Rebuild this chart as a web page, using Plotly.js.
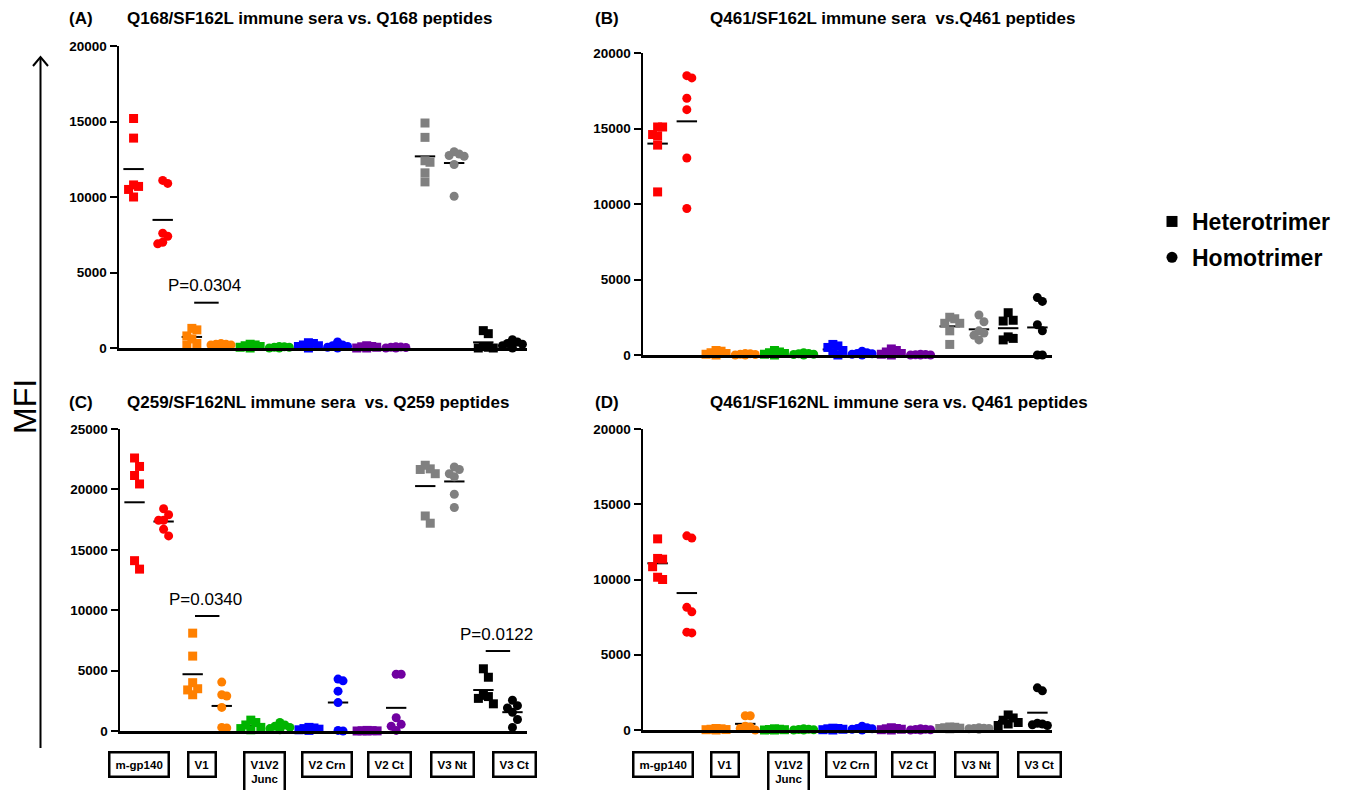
<!DOCTYPE html>
<html><head><meta charset="utf-8">
<script src="https://cdn.plot.ly/plotly-3.0.1.min.js"></script>
<style>html,body{margin:0;padding:0;background:#fff}#chart{width:1351px;height:790px}</style>
</head><body><div id="chart"></div>
<script>
const categories = ['m-gp140','V1','V1V2<br>Junc','V2 Crn','V2 Ct','V3 Nt','V3 Ct'];
const categoryColors = ['#ff0000','#ff8000','#00b400','#0000ff','#7000a0','#808080','#000000'];
const seriesNames = ['Heterotrimer','Homotrimer'];
const panelLetters = ['(A)','(B)','(C)','(D)'];
const panelTitles = [
  'Q168/SF162L immune sera vs. Q168 peptides',
  'Q461/SF162L immune sera  vs.Q461 peptides',
  'Q259/SF162NL immune sera  vs. Q259 peptides',
  'Q461/SF162NL immune sera vs. Q461 peptides'
];
const yMax = [20000, 20000, 25000, 20000];
const yTicks = [
  [0,5000,10000,15000,20000],
  [0,5000,10000,15000,20000],
  [0,5000,10000,15000,20000,25000],
  [0,5000,10000,15000,20000]
];

// values per category: m-gp140, V1, V1V2 Junc, V2 Crn, V2 Ct, V3 Nt, V3 Ct
const panelA_hetero = [
  [15200,13900,10800,10700,10500,10000],
  [1300,1200,800,600,300,200],
  [250,200,150,100,50,0],
  [350,300,200,150,100,0],
  [150,100,80,50,0,0],
  [14900,13950,12400,12300,11600,11000],
  [1150,950,100,50,0,0]
];
const panelA_homo = [
  [11100,10900,7600,7400,7000,6900],
  [300,250,250,200,200,150],
  [100,80,50,50,0,0],
  [400,200,150,100,50,0],
  [80,60,50,30,0,0],
  [13000,12850,12750,12700,12150,10050],
  [550,400,300,250,150,0]
];
const panelB_hetero = [
  [15100,15100,14600,14500,13900,10800],
  [300,250,150,100,50,0],
  [300,200,150,100,50,0],
  [700,600,500,300,100,0],
  [400,300,200,100,50,0],
  [2500,2400,2100,2100,1600,700],
  [2800,2300,2250,1200,1100,1000]
];
const panelB_homo = [
  [18500,18350,17000,16250,13050,9700],
  [100,80,50,30,0,0],
  [150,100,80,50,30,0],
  [250,150,100,80,50,0],
  [50,30,20,0,0,0],
  [2650,2200,1600,1450,1300,1000],
  [3800,3550,2000,1600,0,0]
];
const panelC_hetero = [
  [22600,21900,21150,20450,14100,13400],
  [8100,6200,4000,3500,3400,3000],
  [900,700,500,300,200,100],
  [300,250,200,150,100,50],
  [50,30,20,10,0,0],
  [22000,21700,21650,21300,17800,17200],
  [5150,4450,2950,2850,2700,2250]
];
const panelC_homo = [
  [18400,17900,17450,17450,16700,16150],
  [4050,3000,2900,1950,300,250],
  [700,500,400,300,200,100],
  [4300,4150,3300,2350,50,0],
  [4700,4700,1100,550,400,50],
  [21850,21650,21300,21050,19600,18500],
  [2550,2100,1900,1550,950,300]
];
const panelD_hetero = [
  [12700,11400,11350,10850,10150,10000],
  [100,80,50,30,20,0],
  [80,50,30,20,0,0],
  [120,100,80,50,20,0],
  [150,100,80,50,20,0],
  [200,180,150,120,100,80],
  [1000,800,650,500,400,300]
];
const panelD_homo = [
  [12900,12750,8150,7850,6500,6450],
  [950,950,250,200,100,0],
  [80,50,30,20,0,0],
  [250,150,100,80,50,0],
  [80,50,30,20,0,0],
  [150,120,100,100,80,50],
  [2800,2600,450,400,350,300]
];
const pLabels = ['P=0.0304','P=0.0340','P=0.0122'];
const pLevels = [3000, 9520, 6620];
const pPanels = [0, 2, 2];
const pCategories = [1, 1, 6];

const panelData = [
  [panelA_hetero, panelA_homo],
  [panelB_hetero, panelB_homo],
  [panelC_hetero, panelC_homo],
  [panelD_hetero, panelD_homo]
];

// layout geometry (pixels)
const W = 1351, H = 790;
const boxes = [
  {x0:119, x1:527, yb:348, yt:46},
  {x0:643, x1:1052, yb:355, yt:53},
  {x0:120, x1:527, yb:731, yt:429},
  {x0:643, x1:1052, yb:730, yt:429}
];
const FONT = 'Liberation Sans, Arial, Helvetica, sans-serif';

// beeswarm-style horizontal spreading of overlapping points
function swarmOffsets(vals, pxPerVal, pxPerX) {
  const stepPx = 5, minDy = 9, maxK = 4;
  const order = vals.map((v,i)=>i).sort((a,b)=>vals[b]-vals[a]);
  const placed = []; const off = vals.map(()=>0);
  const slot = k => (k===0 ? 0 : (k%2===1 ? (k+1)/2 : -k/2));
  order.forEach(i => {
    const y = vals[i]*pxPerVal;
    let best = null, bestCount = Infinity;
    for (let k=0;k<=maxK;k++){
      const x = slot(k)*stepPx;
      const cnt = placed.filter(p => Math.abs(p.x-x) < stepPx*0.5 && Math.abs(p.y-y) < minDy).length;
      if (cnt === 0){ best = x; bestCount = 0; break; }
      if (cnt < bestCount){ bestCount = cnt; best = x; }
    }
    placed.push({x: best, y});
    off[i] = best/pxPerX;
  });
  return off;
}

const traces = [];
const markerTraces = [];
const layout = {
  width: W, height: H,
  margin: {l:0, r:0, t:0, b:0},
  paper_bgcolor: '#fff', plot_bgcolor: '#fff',
  font: {family: FONT, color: '#000'},
  showlegend: true,
  legend: {x: 1152/W, y: 1-200/H, xanchor: 'left', yanchor: 'top',
           font: {size: 23, family: FONT, weight: 'bold', color: '#000'},
           bgcolor: 'rgba(0,0,0,0)', tracegroupgap: 3, itemclick: false},
  annotations: [],
  shapes: []
};

panelData.forEach((pd, p) => {
  const b = boxes[p];
  const suf = p === 0 ? '' : String(p+1);
  const xa = 'x' + suf, ya = 'y' + suf;
  const hpx = b.yb - b.yt, wpx = b.x1 - b.x0;
  const pxPerVal = hpx / yMax[p];
  const pxPerX = wpx / 14;
  layout['xaxis' + suf] = {
    domain: [b.x0/W, b.x1/W], range: [-0.5, 13.5], anchor: ya,
    showline: true, linewidth: 2.5, linecolor: '#000',
    showgrid: false, zeroline: false, showticklabels: false, ticks: '', fixedrange: true
  };
  layout['yaxis' + suf] = {
    domain: [1 - b.yb/H, 1 - b.yt/H], range: [0, yMax[p]], anchor: xa,
    showline: true, linewidth: 2.5, linecolor: '#000',
    showgrid: false, zeroline: false,
    tickmode: 'array', tickvals: yTicks[p], ticktext: yTicks[p].map(String),
    ticks: 'outside', ticklen: 7, tickwidth: 2, tickcolor: '#000',
    tickfont: {size: 13.5, family: FONT, weight: 'bold', color: '#000'},
    fixedrange: true
  };
  pd.forEach((series, s) => {
    series.forEach((vals, c) => {
      const xc = 2*c + s;
      const mean = vals.reduce((a,v)=>a+v,0)/vals.length;
      traces.push({
        type: 'scatter', mode: 'lines', xaxis: xa, yaxis: ya,
        x: [xc-0.35, xc+0.35], y: [mean, mean],
        line: {color: '#000', width: 2}, hoverinfo: 'skip', showlegend: false, cliponaxis: false
      });
      const off = swarmOffsets(vals, pxPerVal, pxPerX);
      markerTraces.push({
        type: 'scatter', mode: 'markers', xaxis: xa, yaxis: ya,
        x: off.map(o => xc + o), y: vals,
        name: seriesNames[s] + ' ' + categories[c].replace('<br>',' '),
        marker: {symbol: s === 0 ? 'square' : 'circle', size: 9, color: categoryColors[c], line: {width: 0}},
        showlegend: false, cliponaxis: false
      });
    });
  });
  // panel letter and title
  const ty = p < 2 ? 18 : 402;
  layout.annotations.push({
    xref: 'paper', yref: 'paper', x: (p % 2 === 0 ? 67 : 593)/W, y: 1 - ty/H,
    xanchor: 'left', yanchor: 'middle', showarrow: false, text: panelLetters[p],
    font: {size: 17, family: FONT, weight: 'bold', color: '#000'}
  });
  layout.annotations.push({
    xref: 'paper', yref: 'paper', x: (p % 2 === 0 ? 125 : 708)/W, y: 1 - ty/H,
    xanchor: 'left', yanchor: 'middle', showarrow: false, text: panelTitles[p],
    font: {size: 17, family: FONT, weight: 'bold', color: '#000'}
  });
  // category boxes under bottom panels
  if (p >= 2) {
    categories.forEach((cat, c) => {
      layout.annotations.push({
        xref: xa, yref: 'paper', x: 0.17 + 2.15*c, y: 1 - 751/H,
        xanchor: 'center', yanchor: 'top', showarrow: false, text: cat,
        font: {size: 11.5, family: FONT, weight: 'bold', color: '#000'},
        bordercolor: '#000', borderwidth: 2.5, borderpad: 5, align: 'center'
      });
    });
  }
});

// significance bars
pLabels.forEach((lab, i) => {
  const p = pPanels[i];
  const suf = p === 0 ? '' : String(p+1);
  const xc = 2*pCategories[i] + 0.5;
  traces.push({
    type: 'scatter', mode: 'lines', xaxis: 'x'+suf, yaxis: 'y'+suf,
    x: [xc-0.42, xc+0.42], y: [pLevels[i], pLevels[i]],
    line: {color: '#000', width: 2}, hoverinfo: 'skip', showlegend: false
  });
  layout.annotations.push({
    xref: 'x'+suf, yref: 'y'+suf, x: xc - 0.05, y: pLevels[i], yshift: 17,
    xanchor: 'center', yanchor: 'middle', showarrow: false, text: lab,
    font: {size: 17, family: FONT, color: '#000'}
  });
});

// legend entries
seriesNames.forEach((nm, s) => {
  markerTraces.push({
    type: 'scatter', mode: 'markers', x: [null], y: [null], xaxis: 'x', yaxis: 'y',
    name: nm, legendgroup: nm, showlegend: true,
    marker: {symbol: s === 0 ? 'square' : 'circle', size: 11, color: '#000'}
  });
});

// MFI axis label with arrow
layout.annotations.push({
  xref: 'paper', yref: 'paper', x: 25/W, y: 1 - 407/H, xanchor: 'center', yanchor: 'middle',
  showarrow: false, text: 'MFI', textangle: -90,
  font: {size: 32, family: FONT, color: '#000'}
});
layout.shapes.push({
  type: 'line', xref: 'paper', yref: 'paper',
  x0: 40.5/W, x1: 40.5/W, y0: 1 - 748/H, y1: 1 - 57/H,
  line: {color: '#000', width: 2}
});
layout.shapes.push({
  type: 'path', xref: 'paper', yref: 'paper',
  path: `M ${33/W} ${1-66/H} L ${40.5/W} ${1-57/H} L ${48/W} ${1-66/H}`,
  line: {color: '#000', width: 2}
});

Plotly.newPlot('chart', traces.concat(markerTraces), layout, {displayModeBar: false, staticPlot: true});
</script>
</body></html>
